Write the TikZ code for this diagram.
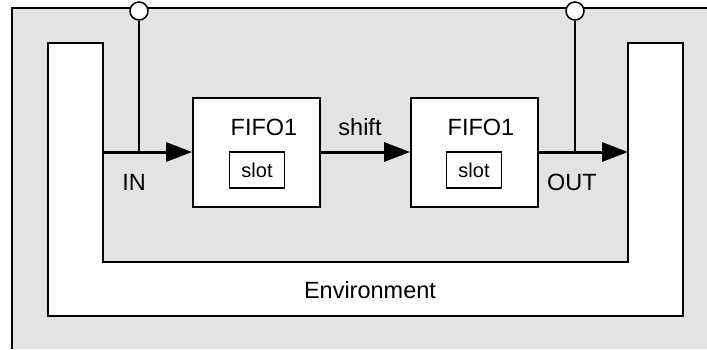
\documentclass[tikz,border=0pt]{standalone}
\usepackage{fontspec}
\setmainfont{Liberation Sans}
\usetikzlibrary{arrows.meta}
\definecolor{bggray}{HTML}{E3E3E3}
\tikzset{
  fifobox/.style={draw, line width=1.8pt, fill=white, minimum width=127pt, minimum height=109pt, inner sep=0pt},
  slotbox/.style={draw, line width=1.6pt, fill=white, minimum width=55pt, minimum height=36pt, inner sep=0pt, font=\fontsize{20}{24}\selectfont},
  port/.style={draw, line width=1.5pt, fill=white, circle, minimum size=18pt, inner sep=0pt},
  lbl/.style={font=\fontsize{23.5}{27}\selectfont, inner sep=0pt},
  flow/.style={line width=3pt, -{Triangle[length=26pt,width=19pt]}},
  wire/.style={line width=1.8pt}
}
\begin{document}
\begin{tikzpicture}[x=1pt,y=-1pt]
\useasboundingbox (0,0) rectangle (707,349);
% outer gray area
\fill[bggray] (12,8) rectangle (707,349);
\draw[line width=1.8pt] (12,349) -- (12,8) -- (707,8);
% environment U
\draw[line width=1.8pt, fill=white] (48,43) -- (103,43) -- (103,262) -- (628,262) -- (628,43) -- (683,43) -- (683,316) -- (48,316) -- cycle;
\node[lbl] (env) at (370,290) {Environment};
% boxes
\node[fifobox] (f1) at (256.5,152.5) {};
\node[fifobox] (f2) at (474.5,152.5) {};
\node[lbl] (f1t) at (264,127) {FIFO1};
\node[lbl] (f2t) at (481,127) {FIFO1};
\node[slotbox] (s1) at (257,170) {slot};
\node[slotbox] (s2) at (474,170) {slot};
% ports
\node[port] (pin) at (139,11) {};
\node[port] (pout) at (575,11) {};
\coordinate (inL) at (103,152);
\coordinate (outR) at (628,152);
\coordinate (jin) at (139,152);
\coordinate (jout) at (575,152);
% arrows
\draw[flow] (inL) -- (f1.west |- inL);
\draw[flow] (f1.east |- inL) -- (f2.west |- inL);
\draw[flow] (f2.east |- outR) -- (outR);
\draw[wire] (pin.south) -- (jin);
\draw[wire] (pout.south) -- (jout);
% labels
\node[lbl] (inl) at (134,182) {IN};
\node[lbl] (outl) at (572,182) {OUT};
\node[lbl] (shl) at (360,127) {shift};
\end{tikzpicture}
\end{document}
